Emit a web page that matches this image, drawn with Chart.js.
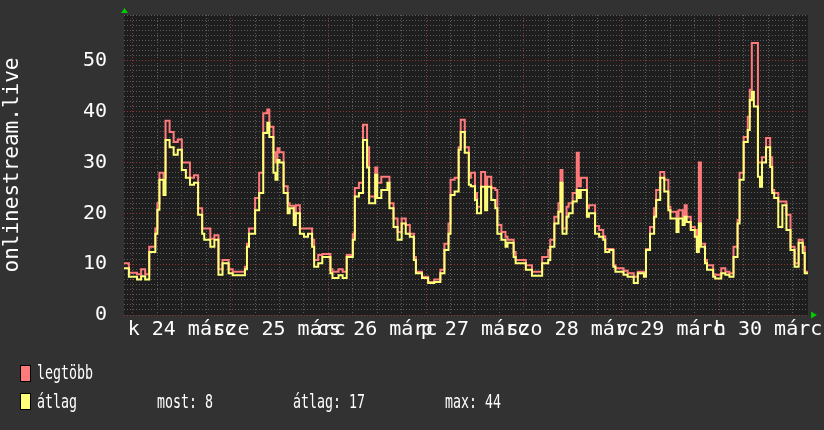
<!DOCTYPE html>
<html>
<head>
<meta charset="utf-8">
<script src="https://cdn.jsdelivr.net/npm/chart.js@4/dist/chart.umd.min.js"></script>
<style>
  html, body { margin: 0; padding: 0; background: #323232; }
  #wrap { width: 824px; height: 430px; }
</style>
</head>
<body>
<div id="wrap"><canvas id="chart" width="824" height="430"></canvas></div>
<script>
// Munin-style weekly graph, hours counted from 24 March 00:00
const hours = [-2.5, -1, 1, 2, 3, 4, 5.5, 6, 6.5, 7.5, 8, 9, 10, 11, 12, 13, 14, 15, 16, 17, 17.5, 19, 20, 21, 22, 23.5,
  24.5, 27.5, 28, 28.5, 30, 31, 32, 33, 33.5, 34.5, 35, 35.5, 36, 37, 38, 38.5, 39.5, 40, 41, 42, 43, 44, 44.5, 45.5, 46.5,
  48.5, 49, 50.5, 51.5, 52.5, 54, 54.5, 55.5, 56.5, 57.5, 58, 59.5, 60, 61, 62.5, 63, 64, 65, 66, 67, 68, 69, 69.5,
  71, 72.5, 74, 75.5, 76.5, 77.5, 78, 79, 80, 80.5, 81.5, 82.5, 83, 84, 84.5, 85.5, 86.5, 87, 88, 89, 89.5, 90.5, 91.5,
  92, 93.5, 94, 96.5, 98, 100.5, 102, 102.5, 103.5, 104.5, 105, 105.5, 106.5, 107, 108, 109, 109.5, 110, 111.5, 112,
  113.5, 114.5, 115.5, 116, 117, 118, 118.5, 120.5, 121.5, 123, 124, 125.5, 126, 127, 128, 128.5, 129.5, 130.5, 131.5,
  132, 133.5, 134, 135, 135.5, 136, 137, 138, 138.5, 139, 139.5, 140.5, 141, 142.5, 143, 144.5, 145.5, 146.5, 147.5,
  148.5, 149, 150, 151, 151.5, 152, 152.5, 153.5, 154, 154.5, 155.5, 156.5, 157, 157.5, 158.5, 159.5, 160.5, 161.5,
  162.5, 163.5, 164.5, 165, 166];

const maxValues = [10.2, 8.3, 8.0, 9.0, 8.0, 13.4, 17, 22, 28, 27, 38.2, 36, 34, 34.5, 30, 30, 27, 27.5, 21, 17, 17, 15, 15.7, 9, 10.8, 9,
  8.5, 9.5, 14, 17, 23, 28, 39.7, 40.4, 37, 32, 30, 32.8, 32, 25.3, 22, 21.5, 19, 21.6, 17, 17, 17, 14.8, 10.8, 11.8, 12,
  9, 8.5, 9, 8.5, 11.8, 16, 25, 26, 37.4, 33, 23.3, 29, 26, 27.2, 27.2, 22, 19, 16.3, 19, 17.7, 16, 11.4, 8.5,
  7.5, 6.5, 7, 8.9, 14, 18, 26.6, 27, 33, 38.4, 33, 27, 28, 24, 21.3, 28.1, 25, 27.2, 25, 24.6, 17.7, 16.3, 15.4,
  14.8, 12.4, 10.8, 9.8, 8.5, 11.4, 12.8, 14.8, 19.3, 22, 28.5, 17, 21.3, 22, 24, 31.9, 25.3, 27, 21, 21.6,
  17.5, 16.7, 15.5, 13, 13, 9.8, 9.2, 8.7, 8.2, 7.5, 8.5, 8.5, 13, 17.3, 21, 24.6, 28.1, 26.6, 21.3,
  20.3, 19.3, 20.6, 19.3, 21.6, 19.3, 17.3, 16.7, 13.4, 30, 14, 10.8, 9.8, 8, 7.9, 9.2, 8.5, 8.2, 13.4,
  18.7, 28, 35, 39, 44.3, 53.5, 53.5, 30, 30, 31, 34.8, 31, 24.6, 24, 22.3, 22.3, 19.7, 13.4,
  10.2, 14.8, 13.4, 8.5, 8.5];

const avgValues = [9.2, 7.5, 7.0, 7.6, 7.0, 12.4, 16, 20.7, 26.6, 23.6, 34.4, 33, 31.5, 32.5, 28.5, 27, 25.6, 26, 19.7, 16, 14.8, 13.4, 14.8, 7.9, 10.2, 8.2,
  7.8, 9, 13.4, 16, 20.6, 24, 35.8, 37.8, 35, 28, 26.6, 30.5, 30, 24, 20, 21, 17.7, 20, 16, 15.4, 16, 13.4, 9.5, 10.2, 11.4,
  8.2, 7.3, 7.8, 7.3, 11.4, 14.8, 23.3, 24, 34.4, 29, 22, 27.6, 23, 24.6, 26, 21, 17.3, 14.8, 18, 16, 15.4, 10.8, 8.2,
  7.3, 6.3, 6.5, 8.2, 12.8, 16, 23.6, 24.3, 32.5, 36, 31.9, 25.6, 25.3, 22.6, 20, 25.2, 20.6, 25.2, 22.6, 21, 16, 14.8, 13.4,
  14.2, 11.4, 10.2, 8.9, 7.7, 10.2, 10.8, 13.4, 18, 20.3, 26, 16, 19.3, 20, 22.3, 24.6, 23, 24.6, 19.3, 20,
  16, 15.4, 14.8, 12.4, 12.8, 9.5, 8.5, 7.9, 7.5, 6.3, 8.2, 7.5, 12.8, 16, 19.3, 22.6, 27, 24.3, 20.6,
  19, 16.3, 19, 17.7, 19.3, 18.3, 16.7, 15.4, 12.4, 18, 13.4, 10.2, 8.9, 7.5, 7.2, 8.2, 7.9, 7.5, 11.4,
  18, 26.6, 34, 36.4, 42.3, 43.9, 41, 27.2, 25.2, 30, 33, 29.1, 24, 23, 17.3, 21.6, 16.7, 12.8,
  9.5, 14.2, 12.2, 8.2, 8.2];

const xTicks = [0, 6, 12, 18, 24, 30, 36, 42, 48, 54, 60, 66, 72, 78, 84, 90, 96, 102, 108, 114, 120, 126, 132, 138, 144, 150, 156, 162];
const dayLabels = ['k 24 márc', 'sze 25 márc', 'cs 26 márc', 'p 27 márc', 'szo 28 márc', 'v 29 márc', 'h 30 márc'];
const yTitle = 'onlinestream.live';
const seriesNames = ['legtöbb', 'átlag'];
const statTexts = ['most: 8', 'átlag: 17', 'max: 44'];

const RED = '#ff7a7a';
const YELLOW = '#ffff78';
const MAJOR = '#8a3838';
const MINOR = '#5c5c5c';
const MONO = '"DejaVu Sans Mono", monospace';

function toPoints(values) {
  return hours.map((h, i) => ({ x: h, y: values[i] }));
}

// backgrounds: outer frame and darker canvas area
const bgPlugin = {
  id: 'bg',
  beforeDraw(chart) {
    const { ctx, chartArea: a } = chart;
    ctx.save();
    ctx.fillStyle = '#323232';
    ctx.fillRect(0, 0, chart.width, chart.height);
    ctx.fillStyle = '#1e1e1e';
    ctx.fillRect(a.left, a.top, a.right - a.left, a.bottom - a.top);
    ctx.restore();
  }
};

// arrows and the legend block under the plot
const legendPlugin = {
  id: 'muninLegend',
  afterDraw(chart) {
    const { ctx, chartArea: a } = chart;
    ctx.save();

    // axis arrows
    ctx.fillStyle = '#00cc00';
    ctx.beginPath();
    ctx.moveTo(a.left + 0.5, a.top - 7);
    ctx.lineTo(a.left - 3, a.top - 2);
    ctx.lineTo(a.left + 4, a.top - 2);
    ctx.closePath();
    ctx.fill();
    ctx.beginPath();
    ctx.moveTo(a.right + 9, a.bottom);
    ctx.lineTo(a.right + 3, a.bottom - 3.5);
    ctx.lineTo(a.right + 3, a.bottom + 3.5);
    ctx.closePath();
    ctx.fill();

    // legend boxes
    const boxes = [[RED, 365], [YELLOW, 393]];
    boxes.forEach(([c, y]) => {
      ctx.fillStyle = c;
      ctx.fillRect(20, y, 11, 17);
      ctx.strokeStyle = '#000';
      ctx.lineWidth = 1;
      ctx.strokeRect(20.5, y + 0.5, 10, 16);
    });

    // condensed mono text
    ctx.font = '20px ' + MONO;
    ctx.fillStyle = '#ffffff';
    ctx.textBaseline = 'alphabetic';
    const sx = 8 / ctx.measureText('m').width;
    const put = (txt, x, y) => {
      ctx.save();
      ctx.translate(x, y);
      ctx.scale(sx, 1);
      ctx.fillText(txt, 0, 0);
      ctx.restore();
    };
    put(seriesNames[0], 37, 379);
    put(seriesNames[1], 37, 408);
    put(statTexts[0], 157, 408);
    put(statTexts[1], 293, 408);
    put(statTexts[2], 445, 408);
    ctx.restore();
  }
};

new Chart(document.getElementById('chart'), {
  type: 'line',
  data: {
    datasets: [
      {
        label: seriesNames[0],
        data: toPoints(maxValues),
        borderColor: RED,
        borderWidth: 2,
        pointRadius: 0,
        stepped: true,
        order: 2
      },
      {
        label: seriesNames[1],
        data: toPoints(avgValues),
        borderColor: YELLOW,
        borderWidth: 2,
        pointRadius: 0,
        stepped: true,
        order: 1
      }
    ]
  },
  options: {
    responsive: false,
    animation: false,
    events: [],
    layout: { padding: { top: 15, right: 16, left: 0, bottom: 0 } },
    plugins: { legend: { display: false }, tooltip: { enabled: false } },
    scales: {
      x: {
        type: 'linear',
        min: -2.2,
        max: 165.8,
        afterBuildTicks: axis => { axis.ticks = xTicks.map(v => ({ value: v })); },
        afterFit: scale => {
          scale.height = 115;
          scale.paddingLeft = 0;
          scale.paddingRight = 0;
        },
        grid: {
          drawTicks: false,
          color: ctx => (ctx.tick && ctx.tick.value % 24 === 0) ? MAJOR : MINOR
        },
        border: { display: false, dash: [1, 2] },
        ticks: {
          autoSkip: false,
          maxRotation: 0,
          minRotation: 0,
          padding: 3,
          color: '#ffffff',
          font: { family: MONO, size: 20 },
          callback: v => (v % 24 === 12) ? dayLabels[(v - 12) / 24] : ''
        }
      },
      y: {
        min: 0,
        max: 59,
        afterFit: scale => {
          scale.width = 124;
          scale.paddingTop = 0;
          scale.paddingBottom = 0;
        },
        grid: {
          drawTicks: false,
          color: ctx => (ctx.tick && ctx.tick.value % 10 === 0) ? MAJOR : MINOR
        },
        border: { display: false, dash: [1, 2] },
        ticks: {
          stepSize: 1,
          autoSkip: false,
          padding: 17,
          color: '#ffffff',
          font: { family: MONO, size: 20 },
          callback: v => (v % 10 === 0) ? String(v) : ''
        },
        title: {
          display: true,
          text: yTitle,
          color: '#ffffff',
          font: { family: MONO, size: 21 },
          padding: { top: 0, bottom: 0 }
        }
      }
    }
  },
  plugins: [bgPlugin, legendPlugin]
});
</script>
</body>
</html>
